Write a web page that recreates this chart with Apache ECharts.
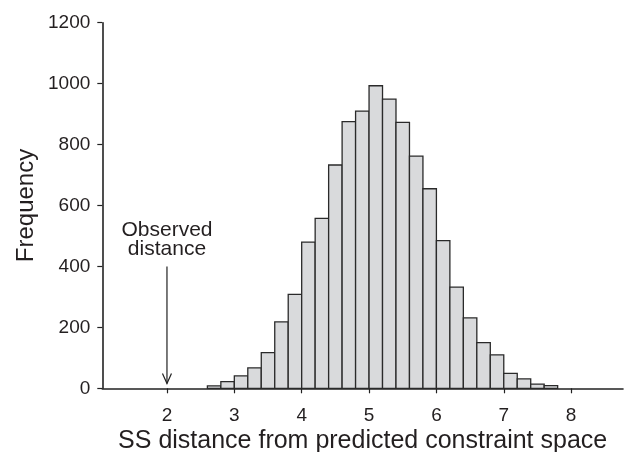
<!DOCTYPE html>
<html>
<head>
<meta charset="utf-8">
<script src="https://cdn.jsdelivr.net/npm/echarts@6/dist/echarts.min.js"></script>
<style>
html,body{margin:0;padding:0;background:#fff;}
#chart{width:627px;height:452px;}
</style>
</head>
<body>
<div id="chart"></div>
<script>
// Histogram bins (lower edges), bin width, and counts
const binLow = [2.6, 2.8, 3.0, 3.2, 3.4, 3.6, 3.8, 4.0, 4.2, 4.4, 4.6, 4.8, 5.0,
                5.2, 5.4, 5.6, 5.8, 6.0, 6.2, 6.4, 6.6, 6.8, 7.0, 7.2, 7.4, 7.6];
const binWidth = 0.2;
const counts = [8, 22, 41, 67, 117, 218, 308, 480, 558, 733, 875, 910, 993,
                949, 873, 762, 655, 485, 332, 231, 150, 110, 49, 31, 14, 9];
const xTicks = [2, 3, 4, 5, 6, 7, 8];
const yTicks = [0, 200, 400, 600, 800, 1000, 1200];
// Annotation: observed distance arrow (x, arrow top y, arrow tip y)
const observed = [[2, 400, 16]];
const observedLabel = 'Observed\ndistance';

const textColor = '#231f20';
const chart = echarts.init(document.getElementById('chart'), null, {renderer: 'canvas'});

const histData = binLow.map((lo, i) => [lo, lo + binWidth, counts[i]]);

chart.setOption({
  animation: false,
  backgroundColor: '#fff',
  grid: {left: 102.3, right: 4, top: 22.7, bottom: 63.7, containLabel: false, outerBoundsMode: 'none'},
  xAxis: {
    type: 'value',
    min: 1.04, max: 8.77,
    name: 'SS distance from predicted constraint space',
    nameLocation: 'middle',
    nameGap: 40,
    nameMoveOverlap: false,
    nameTextStyle: {fontFamily: 'Liberation Sans', fontSize: 25, color: textColor, verticalAlign: 'top'},
    axisLine: {show: true, onZero: false, lineStyle: {color: '#222', width: 1.6}},
    axisTick: {show: true, length: 5, customValues: xTicks, lineStyle: {color: '#222', width: 1.2}},
    axisLabel: {customValues: xTicks, margin: 18, fontFamily: 'Liberation Sans', fontSize: 19, color: textColor},
    splitLine: {show: false}
  },
  yAxis: {
    type: 'value',
    min: 0, max: 1200, interval: 200,
    name: 'Frequency',
    nameLocation: 'middle',
    nameGap: 64,
    nameMoveOverlap: false,
    nameTextStyle: {fontFamily: 'Liberation Sans', fontSize: 24, color: textColor},
    axisLine: {show: true, lineStyle: {color: '#222', width: 1.6}},
    axisTick: {show: true, length: 5, lineStyle: {color: '#222', width: 1.2}},
    axisLabel: {margin: 12, fontFamily: 'Liberation Sans', fontSize: 19, color: textColor,
                formatter: v => yTicks.includes(v) ? String(v) : ''},
    splitLine: {show: false}
  },
  series: [
    {
      type: 'custom',
      data: histData,
      encode: {x: [0, 1], y: 2},
      renderItem: function (params, api) {
        const p0 = api.coord([api.value(0), api.value(2)]);
        const p1 = api.coord([api.value(1), 0]);
        return {
          type: 'rect',
          shape: {x: p0[0], y: p0[1], width: p1[0] - p0[0], height: p1[1] - p0[1]},
          style: {fill: '#d9dadc', stroke: '#2a2a2a', lineWidth: 1.3}
        };
      },
      z: 1
    },
    {
      type: 'custom',
      data: observed,
      encode: {x: 0, y: [1, 2]},
      renderItem: function (params, api) {
        const top = api.coord([api.value(0), api.value(1)]);
        const tip = api.coord([api.value(0), api.value(2)]);
        const hw = 4.5, hh = 10;
        return {
          type: 'group',
          children: [
            {type: 'line', shape: {x1: top[0], y1: top[1], x2: tip[0], y2: tip[1]},
             style: {stroke: '#222', lineWidth: 1.2}},
            {type: 'polyline', shape: {points: [[tip[0] - hw, tip[1] - hh], [tip[0], tip[1]], [tip[0] + hw, tip[1] - hh]]},
             style: {stroke: '#222', lineWidth: 1.2, fill: null}},
            {type: 'text', x: top[0], y: top[1] - 8,
             style: {text: observedLabel, fill: textColor, fontFamily: 'Liberation Sans', fontSize: 21,
                     lineHeight: 18.5, align: 'center', verticalAlign: 'bottom'}}
          ]
        };
      },
      z: 3
    }
  ]
});
</script>
</body>
</html>
